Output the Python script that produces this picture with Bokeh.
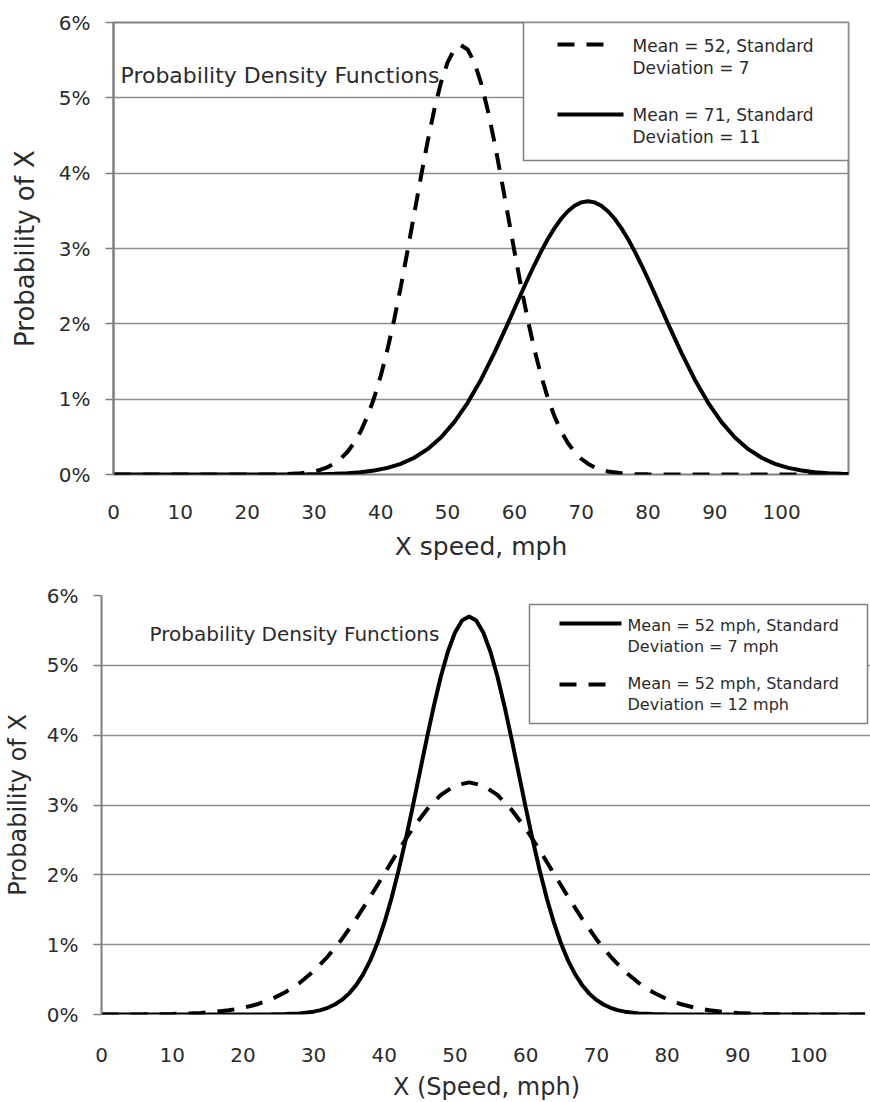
from bokeh.plotting import figure
from bokeh.models import Range1d, FixedTicker, PrintfTickFormatter, BoxAnnotation, Label
from bokeh.embed import file_html
from bokeh.resources import INLINE

FONT = "DejaVu Sans"
TEXT = "#2b2b2b"
GRID = "#8f8f8f"
FRAME = "#7f7f7f"

# ---------------- data ----------------
x_tick_values = [0, 10, 20, 30, 40, 50, 60, 70, 80, 90, 100]
y_tick_values = [0, 1, 2, 3, 4, 5, 6]

# top chart, dashed: mean 52, sd 7 (percent)
top_mean52_x = [0, 5, 10, 15, 20, 22, 24, 26, 28,
                30, 31, 32, 33, 34, 35, 36, 37, 38, 39, 40, 41, 42, 43, 44,
                45, 46, 47, 48, 49, 50, 51, 52, 53, 54, 55, 56, 57, 58, 59,
                60, 61, 62, 63, 64, 65, 66, 67, 68, 69, 70, 71, 72, 73, 74,
                76, 78, 80, 82, 85, 90, 95, 100, 105, 110]
top_mean52_y = [0, 0, 0, 0, 0.0002, 0.0006, 0.0019, 0.0058, 0.016,
                0.0408, 0.0633, 0.0962, 0.143, 0.209, 0.299, 0.418, 0.574, 0.771, 1.016, 1.311,
                1.658, 2.054, 2.494, 2.966, 3.457, 3.947, 4.415, 4.841, 5.199, 5.471, 5.641,
                5.699, 5.641, 5.471, 5.199, 4.841, 4.415, 3.947, 3.457, 2.966, 2.494, 2.054,
                1.658, 1.311, 1.016, 0.771, 0.574, 0.418, 0.299, 0.209, 0.143, 0.0962, 0.0633,
                0.0408, 0.016, 0.0058, 0.0019, 0.0006, 0, 0, 0, 0, 0, 0]

# top chart, solid: mean 71, sd 11 (percent)
top_mean71_x = [0, 10, 20, 25, 29, 31, 33, 35, 37, 39, 41, 43, 45, 47, 49, 51, 53, 55, 57,
                59, 60, 61, 62, 63, 64, 65, 66, 67, 68, 69, 70, 71, 72, 73, 74, 75, 76, 77,
                78, 79, 80, 81, 82, 83,
                85, 87, 89, 91, 93, 95, 97, 99, 101, 103, 105, 107, 109, 110]
top_mean71_y = [0, 0, 0, 0.0005, 0.0025, 0.0049, 0.0093, 0.0171, 0.0306, 0.0527, 0.088,
                0.142, 0.222, 0.336, 0.491, 0.695, 0.951, 1.259, 1.614,
                2.0, 2.2, 2.399, 2.595, 2.784, 2.962, 3.126, 3.271, 3.395, 3.495, 3.568,
                3.612, 3.627, 3.612, 3.568, 3.495, 3.395, 3.271, 3.126, 2.962, 2.784,
                2.595, 2.399, 2.2, 2.0,
                1.614, 1.259, 0.951, 0.695, 0.491, 0.336, 0.222, 0.142, 0.088, 0.0527,
                0.0306, 0.0171, 0.0093, 0.0068]

# bottom chart, solid: mean 52, sd 7 (percent)
bot_sd7_x = [0, 5, 10, 15, 20, 22, 24, 26, 28,
             30, 31, 32, 33, 34, 35, 36, 37, 38, 39, 40, 41, 42, 43, 44,
             45, 46, 47, 48, 49, 50, 51, 52, 53, 54, 55, 56, 57, 58, 59,
             60, 61, 62, 63, 64, 65, 66, 67, 68, 69, 70, 71, 72, 73, 74,
             76, 78, 80, 82, 85, 90, 95, 100, 105, 108]
bot_sd7_y = [0, 0, 0, 0, 0.0002, 0.0006, 0.0019, 0.0058, 0.016,
             0.0408, 0.0633, 0.0962, 0.143, 0.209, 0.299, 0.418, 0.574, 0.771, 1.016, 1.311,
             1.658, 2.054, 2.494, 2.966, 3.457, 3.947, 4.415, 4.841, 5.199, 5.471, 5.641,
             5.699, 5.641, 5.471, 5.199, 4.841, 4.415, 3.947, 3.457, 2.966, 2.494, 2.054,
             1.658, 1.311, 1.016, 0.771, 0.574, 0.418, 0.299, 0.209, 0.143, 0.0962, 0.0633,
             0.0408, 0.016, 0.0058, 0.0019, 0.0006, 0, 0, 0, 0, 0, 0]

# bottom chart, dashed: mean 52, sd 12 (percent)
bot_sd12_x = [0, 2, 4, 6, 8, 10, 12, 14, 16, 18, 20, 22, 24, 26, 28, 30, 32, 34, 36, 38,
              40, 42, 44, 46, 48, 50, 52, 54, 56, 58, 60, 62, 64, 66, 68, 70, 72, 74, 76,
              78, 80, 82, 84, 86, 88, 90, 92, 94, 96, 98, 100, 102, 104, 106, 108]
bot_sd12_y = [0.0003, 0.0006, 0.0011, 0.0021, 0.004, 0.0073, 0.0129, 0.0221, 0.0369, 0.06,
              0.095, 0.146, 0.218, 0.318, 0.45, 0.619, 0.829, 1.079, 1.367, 1.683, 2.016,
              2.349, 2.662, 2.933, 3.144, 3.278, 3.324, 3.278, 3.144, 2.933, 2.662, 2.349,
              2.016, 1.683, 1.367, 1.079, 0.829, 0.619, 0.45, 0.318, 0.218, 0.146, 0.095,
              0.06, 0.0369, 0.0221, 0.0129, 0.0073, 0.004, 0.0021, 0.0011, 0.0006, 0.0003,
              0.0001, 0.0001]

top_legend = ["Mean = 52, Standard", "Deviation = 7", "Mean = 71, Standard", "Deviation = 11"]
bot_legend = ["Mean = 52 mph, Standard", "Deviation = 7 mph",
              "Mean = 52 mph, Standard", "Deviation = 12 mph"]
note_text = "Probability Density Functions"

LW = 4
DASH = "17 12"


def make_fig(fw, fh, bl, br, bt, bb, x_end, tick_px, title_px, ytitle_px, xlabel, x_standoff,
             y_label_standoff, x_label_standoff, outline):
    p = figure(frame_width=fw, frame_height=fh, min_border_left=bl, min_border_right=br,
               min_border_top=bt, min_border_bottom=bb,
               x_range=Range1d(0, x_end), y_range=Range1d(0, 6),
               output_backend="svg", toolbar_location=None,
               background_fill_color="white", border_fill_color="white")
    p.outline_line_color = FRAME if outline else None
    p.outline_line_width = 2
    p.xgrid.grid_line_color = None
    p.ygrid.ticker = FixedTicker(ticks=y_tick_values)
    p.ygrid.grid_line_color = GRID
    p.ygrid.grid_line_width = 1.6

    xa = p.xaxis[0]
    xa.ticker = FixedTicker(ticks=x_tick_values)
    xa.major_tick_line_color = None
    xa.minor_tick_line_color = None
    xa.axis_line_color = None
    xa.major_label_text_font = FONT
    xa.major_label_text_font_size = tick_px
    xa.major_label_text_color = TEXT
    xa.major_label_standoff = x_standoff
    xa.axis_label = xlabel
    xa.axis_label_text_font = FONT
    xa.axis_label_text_font_size = title_px
    xa.axis_label_text_font_style = "normal"
    xa.axis_label_text_color = TEXT
    xa.axis_label_standoff = x_label_standoff

    ya = p.yaxis[0]
    ya.ticker = FixedTicker(ticks=y_tick_values)
    ya.formatter = PrintfTickFormatter(format="%d%%")
    ya.major_tick_out = 8
    ya.major_tick_in = 0
    ya.major_tick_line_color = FRAME
    ya.major_tick_line_width = 1.6
    ya.minor_tick_line_color = None
    ya.axis_line_color = FRAME
    ya.axis_line_width = 2
    ya.major_label_text_font = FONT
    ya.major_label_text_font_size = tick_px
    ya.major_label_text_color = TEXT
    ya.major_label_standoff = 15
    ya.axis_label = "Probability of X"
    ya.axis_label_text_font = FONT
    ya.axis_label_text_font_size = ytitle_px
    ya.axis_label_text_font_style = "normal"
    ya.axis_label_text_color = TEXT
    ya.axis_label_standoff = y_label_standoff
    return p


def add_legend(p, fx, fy, box, rows, font_px, dashed_first):
    left, top, right, bottom = box
    p.add_layout(BoxAnnotation(left=fx(left), right=fx(right), top=fy(top), bottom=fy(bottom),
                               fill_color="white", fill_alpha=1.0, line_color=FRAME,
                               line_alpha=1.0, line_width=1.5))
    (g1x0, g1x1, g1y), (g2x0, g2x1, g2y) = rows["glyphs"]
    dash1 = DASH if dashed_first else "solid"
    dash2 = "solid" if dashed_first else DASH
    p.line([fx(g1x0), fx(g1x1)], [fy(g1y), fy(g1y)], line_color="black", line_width=LW,
           line_dash=dash1, level="overlay")
    p.line([fx(g2x0), fx(g2x1)], [fy(g2y), fy(g2y)], line_color="black", line_width=LW,
           line_dash=dash2, level="overlay")
    for txt, (tx, ty) in zip(rows["texts"], rows["text_pos"]):
        p.add_layout(Label(x=fx(tx), y=fy(ty), text=txt, text_font=FONT,
                           text_font_size=font_px, text_color=TEXT,
                           text_baseline="middle", text_align="left"))


# ---------------- top chart ----------------
T_L, T_R, T_T, T_B = 113, 848, 22, 474
T_XEND = 110
p1 = make_fig(T_R - T_L, T_B - T_T, T_L, 870 - T_R, T_T, 88, T_XEND, "20px", "25px", "26px",
              "X speed, mph", 24, 16, 10, True)


def t_fx(px):
    return (px - T_L) * T_XEND / (T_R - T_L)


def t_fy(py):
    return (T_B - py) * 6 / (T_B - T_T)


p1.line(top_mean52_x, top_mean52_y, line_color="black", line_width=LW, line_dash=DASH)
p1.line(top_mean71_x, top_mean71_y, line_color="black", line_width=LW)
p1.add_layout(Label(x=t_fx(120), y=t_fy(75), text=note_text, text_font=FONT,
                    text_font_size="22px", text_color=TEXT, text_baseline="middle",
                    text_align="left"))
add_legend(p1, t_fx, t_fy, (523, 22, 848, 160),
           {"glyphs": [(557, 608, 44), (557, 623, 114)],
            "texts": top_legend,
            "text_pos": [(632, 45), (632, 67), (632, 114), (632, 136)]},
           "17px", True)

# ---------------- bottom chart ----------------
OFF = 562
B_L, B_R, B_T, B_B = 100, 870, 594, 1013
B_XEND = (B_R - B_L) / 7.07
p2 = make_fig(B_R - B_L, B_B - B_T, B_L, 0, B_T - OFF, 1102 - B_B, B_XEND, "20px", "24px", "24px",
              "X (Speed, mph)", 27, 12, 8, False)


def b_fx(px):
    return (px - B_L) * B_XEND / (B_R - B_L)


def b_fy(py):
    return (B_B - py) * 6 / (B_B - B_T)


p2.line(bot_sd7_x, bot_sd7_y, line_color="black", line_width=LW)
p2.line(bot_sd12_x, bot_sd12_y, line_color="black", line_width=LW, line_dash=DASH)
p2.add_layout(Label(x=b_fx(148), y=b_fy(632), text=note_text, text_font=FONT,
                    text_font_size="20px", text_color=TEXT, text_baseline="middle",
                    text_align="left"))
add_legend(p2, b_fx, b_fy, (528, 603, 866, 722),
           {"glyphs": [(558, 620, 622), (558, 608, 683)],
            "texts": bot_legend,
            "text_pos": [(626, 624), (626, 645), (626, 682), (626, 703)]},
           "16px", False)

# two independent roots, stacked, so that each keeps its own frame geometry
open("out.html", "w").write(file_html([p1, p2], INLINE))
